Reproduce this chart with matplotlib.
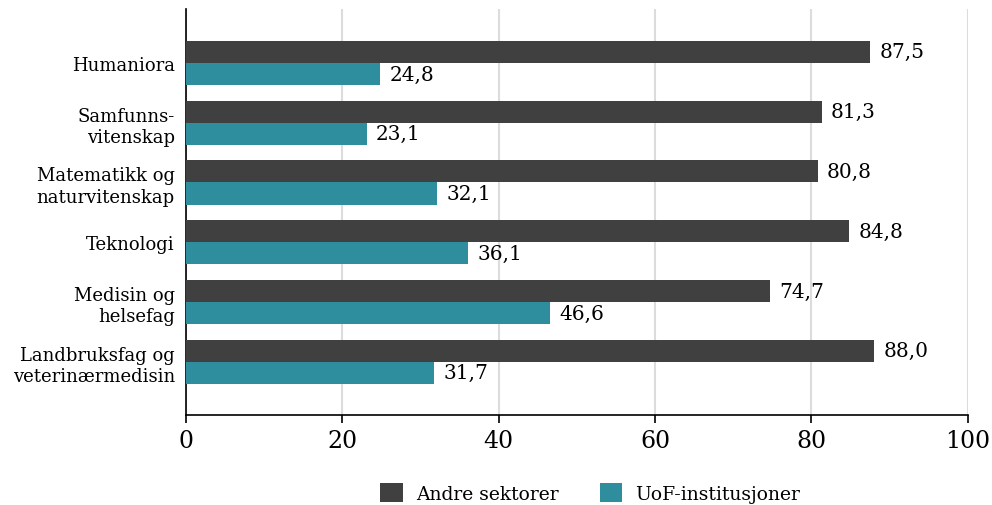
import numpy as np
import matplotlib
matplotlib.use("Agg")
import matplotlib.pyplot as plt

# kategorier og verdier (prosent)
kategorier = ["Humaniora", "Samfunns-\nvitenskap", "Matematikk og\nnaturvitenskap",
              "Teknologi", "Medisin og\nhelsefag", "Landbruksfag og\nveterinærmedisin"]
andre = [87.5, 81.3, 80.8, 84.8, 74.7, 88.0]
uof = [24.8, 23.1, 32.1, 36.1, 46.6, 31.7]
serier = ["Andre sektorer", "UoF-institusjoner"]
farger = ["#404040", "#2e8e9e"]
xticks = [0, 20, 40, 60, 80, 100]

plt.rcParams['font.family'] = ['DejaVu Serif']

fig = plt.figure(figsize=(9.92, 5.06), dpi=100)
ax = fig.add_axes([0.1875, 0.178, 0.788, 0.802])

y = np.arange(len(kategorier))
h = 0.37
ax.barh(y - h / 2, andre, height=h, color=farger[0], label=serier[0], zorder=3)
ax.barh(y + h / 2, uof, height=h, color=farger[1], label=serier[1], zorder=3)

for i in range(len(kategorier)):
    ax.text(andre[i] + 1.2, y[i] - h / 2, f"{andre[i]:.1f}".replace(".", ","),
            va="center", ha="left", fontsize=14.5)
    ax.text(uof[i] + 1.2, y[i] + h / 2, f"{uof[i]:.1f}".replace(".", ","),
            va="center", ha="left", fontsize=14.5)

ax.set_yticks(y)
ax.set_yticklabels(kategorier, fontsize=13, linespacing=1.25)
ax.tick_params(axis="y", length=0, pad=8)
ax.set_ylim(5.89, -0.9)

ax.set_xlim(0, 100)
ax.set_xticks(xticks)
ax.set_xticklabels([str(t) for t in xticks], fontsize=17)
ax.tick_params(axis="x", direction="out", length=6, width=1.2, pad=4)
ax.xaxis.grid(True, color="#dcdcdc", linewidth=1.5, zorder=0)

for s in ["top", "right"]:
    ax.spines[s].set_visible(False)
ax.spines["left"].set_linewidth(1.2)
ax.spines["bottom"].set_linewidth(1.2)

fig.legend(loc="center", bbox_to_anchor=(590 / 992, 1 - 494 / 506), ncol=2,
           frameon=False, fontsize=13.5, handlelength=1.2, handleheight=1.2,
           handletextpad=0.7, columnspacing=2.2)

fig.savefig("out.png", dpi=100)
